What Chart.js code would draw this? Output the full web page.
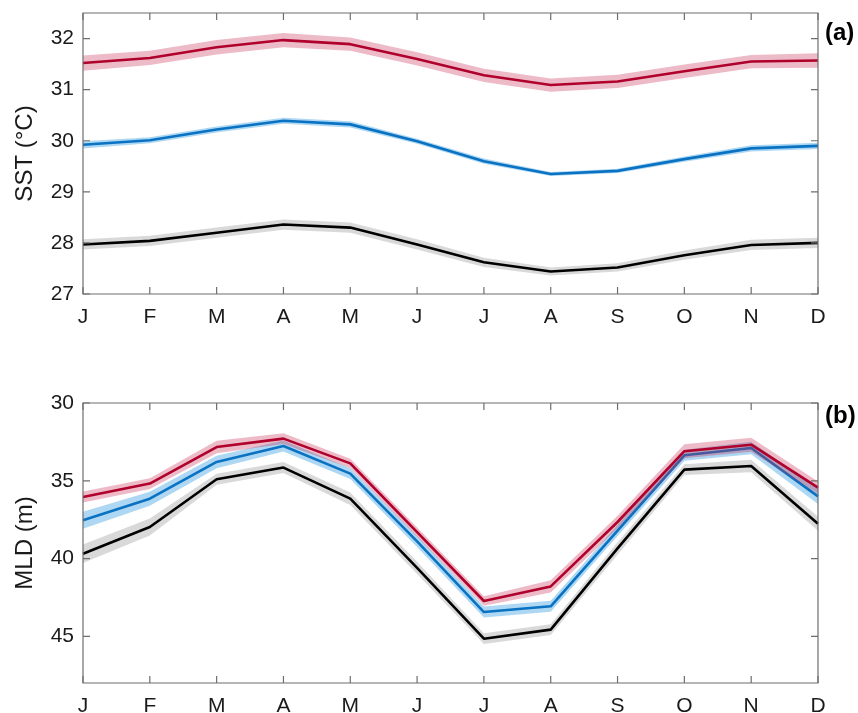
<!DOCTYPE html>
<html>
<head>
<meta charset="utf-8">
<script src="https://cdn.jsdelivr.net/npm/chart.js@4.4.0/dist/chart.umd.min.js"></script>
<style>
  html, body { margin: 0; padding: 0; background: #fff; }
  body { width: 858px; height: 713px; position: relative; overflow: hidden; }
  .panel { position: absolute; left: 0; width: 858px; }
  #pa { top: -10px; height: 355px; }
  #pb { top: 345px; height: 368px; }
</style>
</head>
<body>
<div class="panel" id="pa"><canvas id="ca"></canvas></div>
<div class="panel" id="pb"><canvas id="cb"></canvas></div>
<script>
// ---- Data ----
const months = ['J','F','M','A','M','J','J','A','S','O','N','D'];

// Panel (a): SST (°C)
const sstRed   = [31.52, 31.62, 31.83, 31.97, 31.89, 31.60, 31.28, 31.09, 31.16, 31.36, 31.55, 31.57];
const sstBlue  = [29.92, 30.01, 30.22, 30.39, 30.32, 29.99, 29.60, 29.35, 29.41, 29.64, 29.85, 29.90];
const sstBlack = [27.97, 28.04, 28.20, 28.36, 28.30, 27.97, 27.62, 27.44, 27.52, 27.76, 27.96, 28.00];
const sstRedSpread   = [0.15, 0.14, 0.14, 0.14, 0.13, 0.13, 0.13, 0.13, 0.13, 0.13, 0.13, 0.14];
const sstBlueSpread  = [0.07, 0.06, 0.06, 0.06, 0.06, 0.05, 0.05, 0.04, 0.04, 0.05, 0.06, 0.06];
const sstBlackSpread = [0.10, 0.10, 0.10, 0.10, 0.10, 0.10, 0.09, 0.08, 0.08, 0.09, 0.10, 0.10];
const sstTicks = [27, 28, 29, 30, 31, 32];

// Panel (b): MLD (m)
const mldRed   = [36.04, 35.18, 32.83, 32.29, 33.88, 38.30, 42.73, 41.79, 37.65, 33.10, 32.68, 35.44];
const mldBlue  = [37.54, 36.15, 33.79, 32.76, 34.54, 38.90, 43.44, 43.07, 38.20, 33.36, 32.89, 36.00];
const mldBlack = [39.69, 37.97, 34.90, 34.15, 36.15, 40.60, 45.15, 44.57, 39.35, 34.28, 34.05, 37.76];
const mldRedSpread   = [0.35, 0.35, 0.40, 0.35, 0.30, 0.30, 0.30, 0.40, 0.40, 0.45, 0.45, 0.40];
const mldBlueSpread  = [0.55, 0.45, 0.40, 0.35, 0.35, 0.35, 0.35, 0.35, 0.35, 0.35, 0.40, 0.50];
const mldBlackSpread = [0.60, 0.55, 0.35, 0.35, 0.40, 0.40, 0.35, 0.35, 0.40, 0.35, 0.40, 0.45];
const mldTicks = [30, 35, 40, 45];

// ---- Styling ----
const FONT = "'Liberation Sans', Arial, Helvetica, sans-serif";
const TXT = '#1a1a1a';
const BOX = '#6e6e6e';
const COLORS = {
  red:   { line: '#B0002C', band: 'rgba(200, 40, 80, 0.32)' },
  blue:  { line: '#0A72C2', band: 'rgba(60, 160, 225, 0.42)' },
  black: { line: '#000000', band: 'rgba(150, 150, 150, 0.36)' }
};

function lower(v, s) { return v.map((x, i) => x - s[i]); }
function upper(v, s) { return v.map((x, i) => x + s[i]); }

function seriesSets(vals, spread, c, baseOrder) {
  return [
    { data: lower(vals, spread), borderWidth: 0, pointRadius: 0, fill: false, order: baseOrder + 2, tension: 0 },
    { data: upper(vals, spread), borderWidth: 0, pointRadius: 0, fill: '-1', backgroundColor: c.band, order: baseOrder + 1, tension: 0 },
    { data: vals, borderColor: c.line, borderWidth: 2.6, pointRadius: 0, fill: false, order: baseOrder, tension: 0, borderJoinStyle: 'round' }
  ];
}

const boxTicks = {
  id: 'boxTicks',
  afterDatasetsDraw(chart, args, opts) {
    const ctx = chart.ctx, a = chart.chartArea;
    const xs = chart.scales.x, ys = chart.scales.y;
    ctx.save();
    ctx.strokeStyle = BOX;
    ctx.lineWidth = 1.2;
    ctx.beginPath();
    ctx.rect(a.left, a.top, a.right - a.left, a.bottom - a.top);
    ctx.stroke();
    const L = 7;
    ctx.beginPath();
    xs.ticks.forEach((t, i) => {
      const px = xs.getPixelForTick(i);
      ctx.moveTo(px, a.bottom); ctx.lineTo(px, a.bottom - L);
      ctx.moveTo(px, a.top); ctx.lineTo(px, a.top + L);
    });
    ys.ticks.forEach((t) => {
      const py = ys.getPixelForValue(t.value);
      ctx.moveTo(a.left, py); ctx.lineTo(a.left + L, py);
      ctx.moveTo(a.right, py); ctx.lineTo(a.right - L, py);
    });
    ctx.stroke();
    ctx.fillStyle = '#000';
    ctx.font = 'bold 24px ' + FONT;
    ctx.textBaseline = 'middle';
    ctx.textAlign = 'left';
    ctx.fillText(opts.label, opts.lx, opts.ly);
    ctx.restore();
  }
};

function makeChart(canvasId, sets, yopt, title, pad, label, ly) {
  return new Chart(document.getElementById(canvasId), {
    type: 'line',
    data: { labels: months, datasets: sets },
    options: {
      responsive: true,
      maintainAspectRatio: false,
      animation: false,
      events: [],
      layout: { padding: { left: pad.left, right: pad.right, top: pad.top, bottom: pad.bottom } },
      plugins: {
        legend: { display: false },
        tooltip: { enabled: false },
        boxTicks: { label: label, lx: 825, ly: ly }
      },
      scales: {
        x: {
          type: 'category',
          offset: false,
          grid: { display: false, drawTicks: false },
          border: { display: false },
          ticks: { color: TXT, font: { family: FONT, size: 21 }, padding: 11, maxRotation: 0, autoSkip: false },
          afterFit(s) { s.height = pad.xh; }
        },
        y: Object.assign({
          type: 'linear',
          grid: { display: false, drawTicks: false },
          border: { display: false },
          ticks: { color: TXT, font: { family: FONT, size: 21 }, padding: 9, includeBounds: false },
          title: { display: true, text: title, color: TXT, font: { family: FONT, size: 24 }, padding: { top: 11, bottom: 0 } },
          afterFit(s) { s.width = 83; }
        }, yopt)
      }
    },
    plugins: [boxTicks]
  });
}

const setsA = [].concat(
  seriesSets(sstBlack, sstBlackSpread, COLORS.black, 30),
  seriesSets(sstBlue, sstBlueSpread, COLORS.blue, 20),
  seriesSets(sstRed, sstRedSpread, COLORS.red, 10)
);
const setsB = [].concat(
  seriesSets(mldBlack, mldBlackSpread, COLORS.black, 30),
  seriesSets(mldBlue, mldBlueSpread, COLORS.blue, 20),
  seriesSets(mldRed, mldRedSpread, COLORS.red, 10)
);

makeChart('ca', setsA,
  { min: 27, max: 32.5, afterBuildTicks(s) { s.ticks = sstTicks.map(v => ({ value: v })); } },
  'SST (°C)', { left: 0, right: 40, top: 23, bottom: 0, xh: 51 }, '(a)', 43);

makeChart('cb', setsB,
  { min: 30, max: 48, reverse: true, afterBuildTicks(s) { s.ticks = mldTicks.map(v => ({ value: v })); } },
  'MLD (m)', { left: 0, right: 40, top: 58, bottom: 0, xh: 30 }, '(b)', 71);
</script>
</body>
</html>
